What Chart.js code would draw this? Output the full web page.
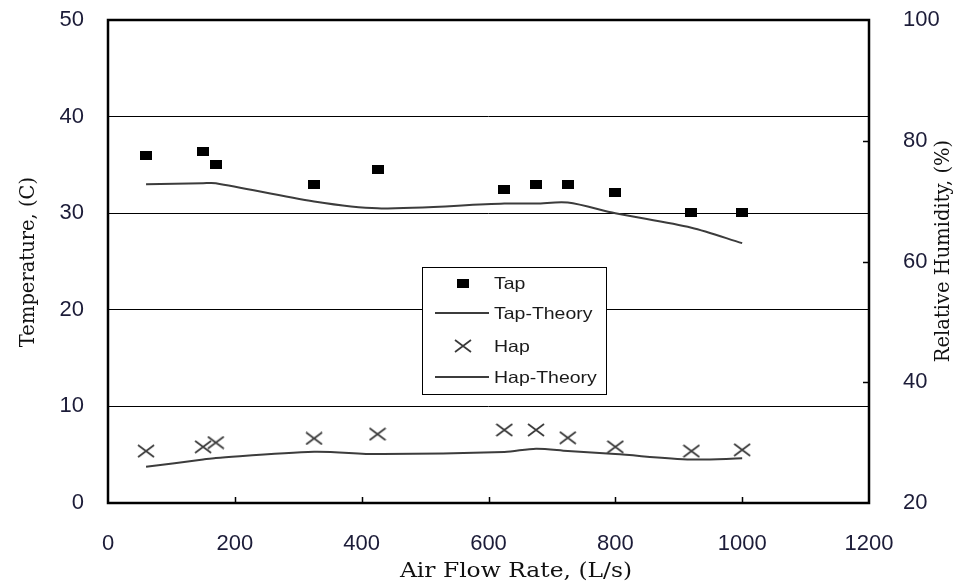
<!DOCTYPE html>
<html>
<head>
<meta charset="utf-8">
<title>Air flow rate vs temperature and relative humidity</title>
<script src="https://cdn.jsdelivr.net/npm/chart.js@4.4.0/dist/chart.umd.min.js"></script>
<style>
  html, body { margin: 0; padding: 0; background: #fff; }
  canvas { display: block; }
</style>
</head>
<body>
<canvas id="myChart" width="959" height="585"></canvas>
<script>
// air flow rate, L/s
var flowRates = [60, 150, 170, 325, 425, 625, 675, 725, 800, 920, 1000];
// temperature, C (left axis)
var tap = [36.0, 36.4, 35.0, 33.0, 34.5, 32.5, 33.0, 33.0, 32.1, 30.1, 30.1];
var tapTheory = [33.0, 33.1, 33.1, 31.2, 30.5, 31.0, 31.0, 31.1, 30.0, 28.5, 26.9];
// relative humidity, % (right axis)
var hap = [28.6, 29.3, 30.0, 30.7, 31.4, 32.1, 32.1, 30.8, 29.3, 28.6, 28.8];
var hapTheory = [26.0, 27.2, 27.45, 28.5, 28.1, 28.45, 29.0, 28.6, 28.1, 27.2, 27.4];

var flowTicks = [0, 200, 400, 600, 800, 1000, 1200];
var tempTicks = [0, 10, 20, 30, 40, 50];
var humTicks = [20, 40, 60, 80, 100];

var labelColor = '#1c1c38';
var tickFont = { family: 'Liberation Sans', size: 22 };

function pairs(xs, ys) {
    return xs.map(function (x, i) { return { x: x, y: ys[i] }; });
}

// marker images: flat black box and a grey X
function squareMarker() {
    var c = document.createElement('canvas');
    c.width = 12; c.height = 9;
    var g = c.getContext('2d');
    g.fillStyle = '#000';
    g.fillRect(0, 0, 12, 9);
    return c;
}
function crossMarker() {
    var c = document.createElement('canvas');
    c.width = 18; c.height = 14;
    var g = c.getContext('2d');
    g.strokeStyle = '#3a3a3a';
    g.lineWidth = 1.7;
    g.beginPath();
    g.moveTo(1, 1); g.lineTo(17, 13);
    g.moveTo(17, 1); g.lineTo(1, 13);
    g.stroke();
    return c;
}
var tapMark = squareMarker();
var hapMark = crossMarker();

function fixTicks(values) {
    return function (scale) {
        scale.ticks = values.map(function (v) { return { value: v }; });
    };
}
function plain(v) { return String(v); }

// the source picture is a bit wider than tall, so horizontal text is stretched
function wideText(ctx, text, x, y, sx) {
    ctx.save();
    ctx.translate(x, y);
    ctx.scale(sx, 1);
    ctx.fillText(text, 0, 0);
    ctx.restore();
}

// frame, inward ticks, axis titles and the boxed legend
var decorations = {
    id: 'decorations',
    afterDraw: function (chart) {
        var ctx = chart.ctx;
        var a = chart.chartArea;
        var x = chart.scales.x, y2 = chart.scales.y2;
        ctx.save();

        ctx.strokeStyle = '#000';
        ctx.lineWidth = 1.5;
        ctx.beginPath();
        flowTicks.slice(1, -1).forEach(function (v) {
            var px = Math.round(x.getPixelForValue(v)) + 0.5;
            ctx.moveTo(px, a.bottom);
            ctx.lineTo(px, a.bottom - 6);
        });
        humTicks.slice(1, -1).forEach(function (v) {
            var py = Math.round(y2.getPixelForValue(v)) + 0.5;
            ctx.moveTo(a.right, py);
            ctx.lineTo(a.right - 6, py);
        });
        ctx.stroke();

        ctx.lineWidth = 2.5;
        ctx.strokeRect(a.left, a.top, a.right - a.left, a.bottom - a.top);

        ctx.fillStyle = '#111';
        ctx.font = '19.5px "DejaVu Serif"';
        ctx.textAlign = 'center';
        ctx.textBaseline = 'middle';
        wideText(ctx, 'Air Flow Rate, (L/s)', 516, 572, 1.2);
        ctx.save();
        ctx.translate(29, 262);
        ctx.rotate(-Math.PI / 2);
        ctx.fillText('Temperature, (C)', 0, 0);
        ctx.restore();
        ctx.save();
        ctx.translate(944, 251);
        ctx.rotate(-Math.PI / 2);
        ctx.fillText('Relative Humidity, (%)', 0, 0);
        ctx.restore();

        // legend box
        var bx = 422, by = 267, bw = 184, bh = 127;
        ctx.fillStyle = '#fff';
        ctx.fillRect(bx, by, bw, bh);
        ctx.lineWidth = 1;
        ctx.strokeRect(bx + 0.5, by + 0.5, bw, bh);
        var rows = [283, 313, 346, 377];
        ctx.font = '16.5px "Liberation Sans"';
        ctx.textAlign = 'left';
        chart.data.datasets.forEach(function (ds, i) {
            var ry = rows[i];
            if (ds.showLine) {
                ctx.strokeStyle = ds.borderColor;
                ctx.lineWidth = ds.borderWidth;
                ctx.beginPath();
                ctx.moveTo(435, ry);
                ctx.lineTo(489, ry);
                ctx.stroke();
            } else {
                var img = ds.pointStyle;
                ctx.drawImage(img, 463 - img.width / 2, ry - img.height / 2);
            }
            ctx.fillStyle = '#1a1a1a';
            wideText(ctx, ds.label, 494, ry + 1, 1.18);
        });
        ctx.restore();
    }
};

// keep tick-label overflow from pushing the plot area down
function noPad(width) {
    return function (s) {
        s.width = width;
        s.paddingTop = 0;
        s.paddingBottom = 0;
    };
}

var ctx = document.getElementById('myChart').getContext('2d');
var chart = new Chart(ctx, {
    type: 'scatter',
    data: {
        datasets: [{
            label: 'Tap',
            data: pairs(flowRates, tap),
            yAxisID: 'y',
            showLine: false,
            pointStyle: tapMark,
            pointRadius: 6
        }, {
            label: 'Tap-Theory',
            data: pairs(flowRates, tapTheory),
            yAxisID: 'y',
            showLine: true,
            borderColor: '#3c3c3c',
            borderWidth: 2,
            tension: 0.3,
            pointRadius: 0
        }, {
            label: 'Hap',
            data: pairs(flowRates, hap),
            yAxisID: 'y2',
            showLine: false,
            pointStyle: hapMark,
            pointRadius: 6
        }, {
            label: 'Hap-Theory',
            data: pairs(flowRates, hapTheory),
            yAxisID: 'y2',
            showLine: true,
            borderColor: '#3c3c3c',
            borderWidth: 2,
            tension: 0.3,
            pointRadius: 0
        }]
    },
    options: {
        responsive: false,
        animation: false,
        layout: { padding: { top: 20 } },
        plugins: {
            legend: { display: false },
            tooltip: { enabled: false }
        },
        scales: {
            x: {
                type: 'linear',
                min: 0,
                max: 1200,
                afterBuildTicks: fixTicks(flowTicks),
                afterFit: function (s) { s.height = 82; },
                grid: { display: false },
                border: { display: false },
                ticks: { color: labelColor, font: tickFont, padding: 20, maxRotation: 0, callback: plain }
            },
            y: {
                position: 'left',
                min: 0,
                max: 50,
                afterBuildTicks: fixTicks(tempTicks),
                afterFit: noPad(108),
                grid: { color: '#000', lineWidth: 1, drawTicks: false },
                border: { display: false },
                ticks: { color: labelColor, font: tickFont, padding: 24, callback: plain }
            },
            y2: {
                position: 'right',
                min: 20,
                max: 100,
                afterBuildTicks: fixTicks(humTicks),
                afterFit: noPad(90),
                grid: { display: false },
                border: { display: false },
                ticks: { color: labelColor, font: tickFont, padding: 26, callback: plain }
            }
        }
    },
    plugins: [decorations]
});
</script>
</body>
</html>
